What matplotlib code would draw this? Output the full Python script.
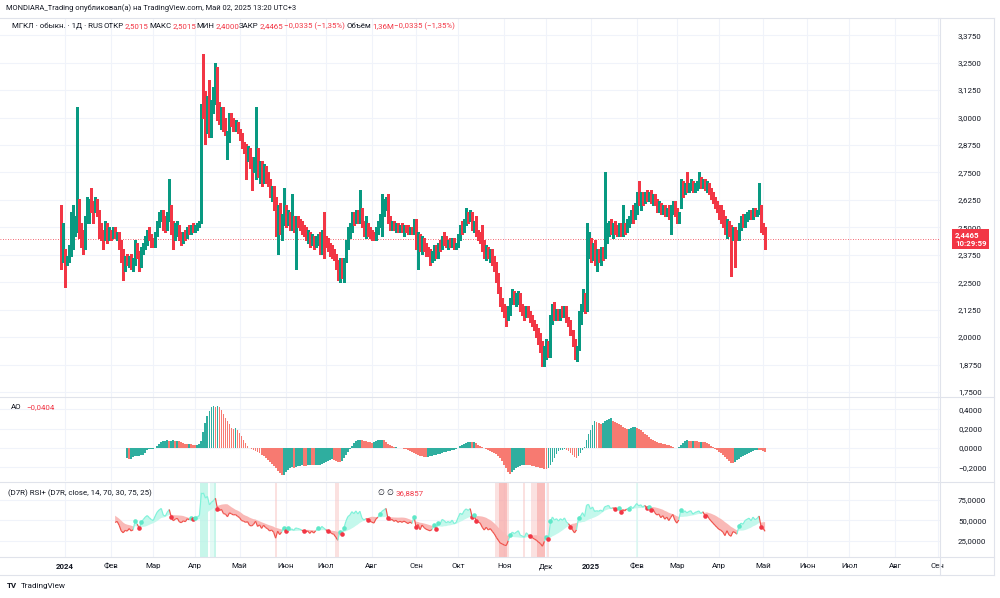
import numpy as np
import pandas as pd
import matplotlib
matplotlib.use('Agg')
import matplotlib.pyplot as plt
from matplotlib.collections import LineCollection
from matplotlib.lines import Line2D
from matplotlib.transforms import blended_transform_factory

plt.rcParams['font.family'] = ['Roboto', 'DejaVu Sans']

FIRST_DAY = '2023-12-28'
LAST_AXIS_DAY = '2025-09-30'

opens = [
    2.40, 2.36, 2.39, 2.35, 2.36, 2.38, 2.44, 2.50, 2.53, 2.59,
    2.47, 2.47, 2.46, 2.53, 2.61, 2.62, 2.60, 2.59, 2.62, 2.57,
    2.48, 2.47, 2.46, 2.50, 2.45, 2.48, 2.46, 2.49, 2.46, 2.47,
    2.43, 2.36, 2.33, 2.35, 2.34, 2.36, 2.33, 2.34, 2.42, 2.38,
    2.33, 2.39, 2.42, 2.45, 2.47, 2.45, 2.43, 2.42, 2.47, 2.52,
    2.55, 2.57, 2.51, 2.50, 2.55, 2.59, 2.51, 2.47, 2.49, 2.50,
    2.46, 2.45, 2.47, 2.46, 2.49, 2.48, 2.50, 2.49, 2.50, 2.51,
    2.53, 3.24, 3.08, 2.99, 3.06, 2.95, 3.04, 3.10, 3.21, 3.03,
    3.00, 3.04, 2.96, 2.88, 2.90, 3.00, 2.98, 2.96, 2.97, 2.94,
    2.92, 2.87, 2.86, 2.84, 2.85, 2.79, 2.78, 2.77, 2.84, 2.76,
    2.78, 2.72, 2.76, 2.72, 2.70, 2.66, 2.67, 2.63, 2.50, 2.58,
    2.50, 2.53, 2.59, 2.52, 2.56, 2.51, 2.53, 2.45, 2.53, 2.52,
    2.51, 2.49, 2.48, 2.46, 2.47, 2.43, 2.45, 2.42, 2.44, 2.46,
    2.44, 2.47, 2.45, 2.43, 2.41, 2.40, 2.38, 2.37, 2.33, 2.28,
    2.34, 2.30, 2.35, 2.42, 2.48, 2.50, 2.55, 2.53, 2.57, 2.54,
    2.58, 2.51, 2.48, 2.50, 2.49, 2.47, 2.46, 2.45, 2.49, 2.51,
    2.50, 2.58, 2.60, 2.62, 2.53, 2.51, 2.52, 2.50, 2.51, 2.49,
    2.50, 2.49, 2.50, 2.49, 2.48, 2.49, 2.48, 2.53, 2.44, 2.46,
    2.40, 2.44, 2.41, 2.39, 2.38, 2.37, 2.38, 2.41, 2.37, 2.42,
    2.41, 2.45, 2.44, 2.42, 2.43, 2.42, 2.44, 2.41, 2.42, 2.46,
    2.50, 2.49, 2.53, 2.55, 2.54, 2.56, 2.50, 2.52, 2.47, 2.46,
    2.47, 2.41, 2.38, 2.40, 2.37, 2.38, 2.35, 2.32, 2.27, 2.22,
    2.16, 2.14, 2.11, 2.10, 2.13, 2.17, 2.19, 2.17, 2.18, 2.19,
    2.13, 2.12, 2.10, 2.13, 2.10, 2.08, 2.06, 2.04, 2.02, 2.00,
    1.96, 1.90, 1.93, 1.96, 1.92, 2.08, 2.14, 2.10, 2.12, 2.09,
    2.12, 2.10, 2.13, 2.08, 2.06, 2.02, 1.97, 1.92, 1.95, 2.10,
    2.13, 2.19, 2.14, 2.40, 2.43, 2.36, 2.42, 2.35, 2.37, 2.36,
    2.39, 2.37, 2.48, 2.50, 2.52, 2.48, 2.50, 2.49, 2.48, 2.51,
    2.47, 2.50, 2.49, 2.52, 2.53, 2.57, 2.55, 2.59, 2.70, 2.62,
    2.64, 2.62, 2.65, 2.63, 2.65, 2.62, 2.64, 2.61, 2.59, 2.60,
    2.57, 2.59, 2.56, 2.58, 2.55, 2.58, 2.61, 2.56, 2.53, 2.60,
    2.69, 2.66, 2.69, 2.67, 2.69, 2.70, 2.67, 2.69, 2.70, 2.71,
    2.69, 2.71, 2.68, 2.69, 2.66, 2.64, 2.62, 2.60, 2.58, 2.56,
    2.55, 2.53, 2.49, 2.52, 2.50, 2.45, 2.48, 2.47, 2.45, 2.51,
    2.53, 2.52, 2.55, 2.56, 2.57, 2.55, 2.58, 2.56, 2.57, 2.59,
    2.50, 2.5015,
]
highs = [
    2.60, 2.52, 2.40, 2.37, 2.42, 2.57, 2.60, 2.55, 3.05, 2.63,
    2.52, 2.49, 2.55, 2.64, 2.63, 2.68, 2.62, 2.64, 2.63, 2.58,
    2.52, 2.49, 2.53, 2.52, 2.50, 2.49, 2.50, 2.50, 2.48, 2.48,
    2.44, 2.40, 2.37, 2.38, 2.37, 2.38, 2.36, 2.44, 2.43, 2.39,
    2.41, 2.43, 2.46, 2.49, 2.50, 2.47, 2.45, 2.48, 2.53, 2.57,
    2.58, 2.58, 2.55, 2.57, 2.72, 2.60, 2.53, 2.52, 2.53, 2.51,
    2.48, 2.48, 2.49, 2.50, 2.51, 2.51, 2.52, 2.51, 2.52, 2.53,
    3.06, 3.29, 3.12, 3.10, 3.17, 3.08, 3.14, 3.25, 3.23, 3.07,
    3.05, 3.05, 3.00, 2.94, 3.02, 3.02, 3.00, 2.99, 2.98, 2.95,
    2.93, 2.89, 2.88, 2.87, 2.86, 2.82, 2.82, 3.05, 2.86, 2.80,
    2.80, 2.79, 2.78, 2.75, 2.72, 2.69, 2.69, 2.64, 2.60, 2.61,
    2.56, 2.68, 2.60, 2.58, 2.57, 2.65, 2.55, 2.55, 2.55, 2.54,
    2.53, 2.51, 2.50, 2.49, 2.48, 2.47, 2.46, 2.46, 2.47, 2.48,
    2.49, 2.57, 2.46, 2.45, 2.43, 2.42, 2.40, 2.38, 2.35, 2.36,
    2.36, 2.36, 2.44, 2.50, 2.52, 2.57, 2.57, 2.58, 2.58, 2.67,
    2.59, 2.53, 2.55, 2.52, 2.50, 2.49, 2.48, 2.50, 2.53, 2.56,
    2.65, 2.63, 2.64, 2.65, 2.55, 2.53, 2.53, 2.52, 2.52, 2.51,
    2.52, 2.51, 2.51, 2.51, 2.50, 2.50, 2.54, 2.54, 2.48, 2.47,
    2.46, 2.45, 2.43, 2.41, 2.40, 2.39, 2.42, 2.42, 2.43, 2.44,
    2.46, 2.48, 2.46, 2.44, 2.45, 2.45, 2.45, 2.43, 2.47, 2.51,
    2.53, 2.54, 2.59, 2.57, 2.58, 2.57, 2.53, 2.55, 2.49, 2.48,
    2.51, 2.44, 2.42, 2.41, 2.40, 2.40, 2.37, 2.34, 2.29, 2.23,
    2.18, 2.15, 2.14, 2.14, 2.18, 2.22, 2.21, 2.20, 2.21, 2.20,
    2.15, 2.14, 2.14, 2.14, 2.12, 2.10, 2.08, 2.06, 2.04, 2.02,
    1.98, 1.96, 1.99, 1.98, 2.10, 2.15, 2.16, 2.13, 2.13, 2.13,
    2.14, 2.14, 2.14, 2.09, 2.08, 2.03, 1.99, 1.96, 2.12, 2.15,
    2.22, 2.20, 2.52, 2.48, 2.45, 2.43, 2.44, 2.40, 2.40, 2.41,
    2.41, 2.75, 2.52, 2.53, 2.54, 2.52, 2.53, 2.51, 2.52, 2.52,
    2.60, 2.52, 2.54, 2.55, 2.58, 2.60, 2.61, 2.66, 2.71, 2.66,
    2.66, 2.66, 2.67, 2.66, 2.67, 2.65, 2.65, 2.63, 2.62, 2.61,
    2.60, 2.60, 2.59, 2.60, 2.60, 2.62, 2.62, 2.59, 2.57, 2.72,
    2.71, 2.70, 2.75, 2.70, 2.72, 2.71, 2.70, 2.71, 2.75, 2.73,
    2.72, 2.72, 2.71, 2.70, 2.68, 2.66, 2.64, 2.62, 2.60, 2.60,
    2.58, 2.55, 2.54, 2.53, 2.51, 2.50, 2.50, 2.49, 2.52, 2.55,
    2.56, 2.56, 2.57, 2.58, 2.58, 2.59, 2.59, 2.58, 2.70, 2.60,
    2.52, 2.5015,
]
lows = [
    2.31, 2.34, 2.23, 2.33, 2.34, 2.37, 2.40, 2.46, 2.48, 2.45,
    2.41, 2.38, 2.40, 2.52, 2.52, 2.57, 2.52, 2.57, 2.55, 2.45,
    2.44, 2.40, 2.44, 2.43, 2.44, 2.44, 2.45, 2.45, 2.44, 2.40,
    2.34, 2.26, 2.30, 2.33, 2.32, 2.31, 2.30, 2.33, 2.36, 2.30,
    2.32, 2.38, 2.40, 2.42, 2.44, 2.41, 2.41, 2.41, 2.46, 2.50,
    2.53, 2.49, 2.48, 2.49, 2.53, 2.47, 2.40, 2.44, 2.46, 2.44,
    2.42, 2.43, 2.44, 2.45, 2.47, 2.47, 2.48, 2.48, 2.49, 2.50,
    2.52, 3.00, 2.88, 2.93, 2.91, 2.91, 3.02, 3.06, 2.99, 2.97,
    2.95, 2.94, 2.92, 2.81, 2.89, 2.96, 2.94, 2.94, 2.93, 2.90,
    2.86, 2.84, 2.72, 2.80, 2.77, 2.67, 2.75, 2.72, 2.73, 2.70,
    2.69, 2.70, 2.70, 2.69, 2.64, 2.62, 2.58, 2.46, 2.38, 2.47,
    2.44, 2.51, 2.50, 2.51, 2.49, 2.49, 2.48, 2.31, 2.50, 2.49,
    2.47, 2.46, 2.44, 2.43, 2.41, 2.42, 2.40, 2.41, 2.42, 2.38,
    2.38, 2.36, 2.41, 2.39, 2.37, 2.36, 2.35, 2.31, 2.26, 2.25,
    2.27, 2.25, 2.34, 2.40, 2.45, 2.48, 2.51, 2.52, 2.52, 2.52,
    2.50, 2.46, 2.45, 2.46, 2.45, 2.44, 2.44, 2.44, 2.47, 2.50,
    2.46, 2.55, 2.58, 2.52, 2.49, 2.49, 2.49, 2.48, 2.48, 2.48,
    2.48, 2.46, 2.48, 2.47, 2.47, 2.47, 2.47, 2.40, 2.31, 2.39,
    2.38, 2.39, 2.37, 2.37, 2.33, 2.34, 2.35, 2.36, 2.36, 2.39,
    2.40, 2.42, 2.41, 2.40, 2.41, 2.41, 2.40, 2.40, 2.41, 2.44,
    2.47, 2.48, 2.51, 2.52, 2.53, 2.49, 2.48, 2.46, 2.44, 2.43,
    2.39, 2.36, 2.35, 2.36, 2.34, 2.33, 2.30, 2.25, 2.20, 2.14,
    2.12, 2.09, 2.05, 2.08, 2.10, 2.15, 2.15, 2.14, 2.15, 2.12,
    2.10, 2.08, 2.09, 2.09, 2.07, 2.05, 2.03, 2.00, 1.97, 1.93,
    1.87, 1.87, 1.90, 1.91, 1.91, 2.06, 2.08, 2.08, 2.08, 2.08,
    2.09, 2.09, 2.07, 2.05, 2.01, 1.96, 1.90, 1.89, 1.94, 2.06,
    2.12, 2.11, 2.12, 2.36, 2.34, 2.35, 2.33, 2.30, 2.34, 2.33,
    2.35, 2.36, 2.43, 2.46, 2.47, 2.45, 2.47, 2.46, 2.46, 2.46,
    2.46, 2.47, 2.48, 2.50, 2.52, 2.52, 2.54, 2.56, 2.60, 2.58,
    2.60, 2.61, 2.62, 2.62, 2.61, 2.60, 2.60, 2.57, 2.57, 2.56,
    2.56, 2.55, 2.55, 2.54, 2.47, 2.56, 2.55, 2.52, 2.52, 2.59,
    2.64, 2.65, 2.66, 2.66, 2.67, 2.66, 2.66, 2.67, 2.68, 2.68,
    2.68, 2.67, 2.66, 2.65, 2.63, 2.61, 2.59, 2.57, 2.54, 2.52,
    2.50, 2.47, 2.45, 2.46, 2.28, 2.44, 2.32, 2.44, 2.44, 2.49,
    2.50, 2.50, 2.53, 2.54, 2.54, 2.54, 2.55, 2.55, 2.56, 2.48,
    2.47, 2.40,
]
closes = [
    2.37, 2.37, 2.35, 2.36, 2.37, 2.44, 2.50, 2.53, 2.59, 2.47,
    2.46, 2.46, 2.53, 2.61, 2.62, 2.60, 2.59, 2.62, 2.57, 2.48,
    2.47, 2.46, 2.50, 2.45, 2.48, 2.46, 2.49, 2.46, 2.47, 2.43,
    2.36, 2.33, 2.35, 2.34, 2.36, 2.33, 2.34, 2.42, 2.38, 2.33,
    2.39, 2.42, 2.45, 2.47, 2.45, 2.43, 2.42, 2.47, 2.52, 2.55,
    2.57, 2.51, 2.50, 2.55, 2.59, 2.51, 2.47, 2.49, 2.50, 2.46,
    2.45, 2.47, 2.46, 2.49, 2.48, 2.50, 2.49, 2.50, 2.51, 2.52,
    3.05, 3.05, 2.99, 3.06, 2.95, 3.04, 3.10, 3.21, 3.03, 3.00,
    3.04, 2.96, 2.95, 2.90, 3.00, 2.98, 2.96, 2.97, 2.94, 2.92,
    2.87, 2.86, 2.84, 2.85, 2.79, 2.78, 2.80, 2.84, 2.76, 2.78,
    2.72, 2.76, 2.72, 2.70, 2.66, 2.67, 2.63, 2.50, 2.58, 2.50,
    2.53, 2.59, 2.52, 2.56, 2.51, 2.53, 2.50, 2.53, 2.52, 2.51,
    2.49, 2.48, 2.46, 2.47, 2.43, 2.45, 2.42, 2.44, 2.46, 2.44,
    2.47, 2.45, 2.43, 2.41, 2.40, 2.38, 2.37, 2.33, 2.28, 2.34,
    2.30, 2.35, 2.42, 2.48, 2.50, 2.55, 2.53, 2.57, 2.54, 2.58,
    2.51, 2.48, 2.50, 2.49, 2.47, 2.46, 2.45, 2.49, 2.51, 2.55,
    2.58, 2.60, 2.62, 2.53, 2.51, 2.52, 2.50, 2.51, 2.49, 2.50,
    2.49, 2.50, 2.49, 2.48, 2.49, 2.48, 2.53, 2.44, 2.46, 2.40,
    2.44, 2.41, 2.39, 2.38, 2.37, 2.38, 2.41, 2.37, 2.42, 2.41,
    2.45, 2.44, 2.42, 2.43, 2.42, 2.44, 2.41, 2.42, 2.46, 2.50,
    2.49, 2.53, 2.55, 2.54, 2.56, 2.50, 2.52, 2.47, 2.46, 2.45,
    2.41, 2.38, 2.40, 2.37, 2.38, 2.35, 2.32, 2.27, 2.22, 2.16,
    2.14, 2.11, 2.10, 2.13, 2.17, 2.19, 2.17, 2.18, 2.19, 2.13,
    2.12, 2.10, 2.13, 2.10, 2.08, 2.06, 2.04, 2.02, 1.99, 1.96,
    1.90, 1.93, 1.96, 1.92, 2.08, 2.14, 2.10, 2.12, 2.09, 2.12,
    2.10, 2.13, 2.08, 2.06, 2.02, 1.97, 1.92, 1.95, 2.10, 2.13,
    2.19, 2.14, 2.40, 2.43, 2.36, 2.42, 2.35, 2.37, 2.36, 2.39,
    2.37, 2.48, 2.50, 2.52, 2.48, 2.50, 2.49, 2.48, 2.51, 2.47,
    2.50, 2.49, 2.52, 2.53, 2.57, 2.55, 2.59, 2.64, 2.62, 2.64,
    2.62, 2.65, 2.63, 2.65, 2.62, 2.64, 2.61, 2.59, 2.60, 2.57,
    2.59, 2.56, 2.58, 2.55, 2.58, 2.61, 2.56, 2.53, 2.56, 2.69,
    2.66, 2.69, 2.67, 2.69, 2.70, 2.67, 2.69, 2.70, 2.71, 2.69,
    2.71, 2.68, 2.69, 2.66, 2.64, 2.62, 2.60, 2.58, 2.56, 2.55,
    2.53, 2.49, 2.52, 2.47, 2.45, 2.48, 2.47, 2.45, 2.51, 2.53,
    2.52, 2.55, 2.56, 2.57, 2.55, 2.58, 2.56, 2.57, 2.59, 2.50,
    2.48, 2.4465,
]

# Awesome Oscillator histogram (first bar = candle 33)
AO_FIRST_BAR = 33
ao_values = [
    -0.100, -0.115, -0.110, -0.090, -0.085, -0.080, -0.080, -0.075, -0.070, -0.050,
    -0.020, -0.010, -0.010, -0.005, 0.005, 0.020, 0.040, 0.060, 0.070, 0.075,
    0.080, 0.070, 0.075, 0.080, 0.070, 0.075, 0.070, 0.060, 0.050, 0.045,
    0.040, 0.045, 0.040, 0.035, 0.030, 0.030, 0.040, 0.070, 0.170, 0.260,
    0.330, 0.380, 0.420, 0.430, 0.420, 0.430, 0.420, 0.390, 0.350, 0.310,
    0.280, 0.250, 0.210, 0.200, 0.205, 0.190, 0.160, 0.120, 0.080, 0.050,
    0.020, 0.000, -0.010, -0.020, -0.030, -0.040, -0.050, -0.070, -0.080, -0.100,
    -0.120, -0.140, -0.160, -0.190, -0.210, -0.240, -0.260, -0.280, -0.275, -0.250,
    -0.230, -0.210, -0.200, -0.210, -0.200, -0.190, -0.190, -0.180, -0.185, -0.190,
    -0.180, -0.170, -0.175, -0.180, -0.180, -0.175, -0.170, -0.160, -0.150, -0.140,
    -0.130, -0.120, -0.115, -0.120, -0.130, -0.140, -0.145, -0.130, -0.100, -0.070,
    -0.040, -0.010, 0.020, 0.050, 0.070, 0.080, 0.085, 0.080, 0.075, 0.070,
    0.065, 0.060, 0.055, 0.060, 0.070, 0.080, 0.085, 0.085, 0.080, 0.060,
    0.040, 0.030, 0.020, 0.010, 0.010, 0.005, 0.003, 0.000, -0.005, -0.010,
    -0.020, -0.030, -0.040, -0.050, -0.060, -0.070, -0.080, -0.085, -0.090, -0.095,
    -0.090, -0.085, -0.080, -0.075, -0.070, -0.065, -0.060, -0.050, -0.045, -0.040,
    -0.035, -0.030, -0.025, -0.020, -0.010, 0.000, 0.020, 0.030, 0.040, 0.050,
    0.060, 0.065, 0.060, 0.065, 0.050, 0.030, 0.020, 0.010, 0.000, -0.010,
    -0.020, -0.030, -0.040, -0.050, -0.060, -0.080, -0.100, -0.130, -0.170, -0.210,
    -0.250, -0.270, -0.250, -0.230, -0.210, -0.195, -0.185, -0.175, -0.170, -0.172,
    -0.175, -0.180, -0.185, -0.190, -0.195, -0.200, -0.205, -0.210, -0.215, -0.220,
    -0.210, -0.180, -0.140, -0.100, -0.060, -0.030, -0.020, -0.015, -0.010, -0.020,
    -0.030, -0.050, -0.070, -0.090, -0.100, -0.080, -0.050, -0.020, 0.010, 0.080,
    0.140, 0.190, 0.240, 0.280, 0.270, 0.260, 0.250, 0.260, 0.280, 0.290,
    0.300, 0.310, 0.280, 0.270, 0.260, 0.250, 0.240, 0.220, 0.210, 0.200,
    0.200, 0.210, 0.215, 0.215, 0.210, 0.200, 0.185, 0.170, 0.150, 0.130,
    0.110, 0.090, 0.080, 0.070, 0.060, 0.055, 0.050, 0.045, 0.040, 0.035,
    0.030, 0.020, 0.010, 0.005, 0.000, 0.010, 0.030, 0.050, 0.070, 0.080,
    0.075, 0.070, 0.072, 0.070, 0.068, 0.066, 0.067, 0.065, 0.060, 0.050,
    0.040, 0.020, 0.010, -0.010, -0.020, -0.040, -0.050, -0.070, -0.090, -0.110,
    -0.130, -0.150, -0.155, -0.140, -0.120, -0.110, -0.090, -0.080, -0.070, -0.060,
    -0.050, -0.040, -0.030, -0.020, -0.015, -0.020, -0.025, -0.035, -0.0404,
]

month_starts = ['2024-01-01', '2024-02-01', '2024-03-01', '2024-04-01', '2024-05-01',
                '2024-06-01', '2024-07-01', '2024-08-01', '2024-09-01', '2024-10-01',
                '2024-11-01', '2024-12-01', '2025-01-01', '2025-02-01', '2025-03-01',
                '2025-04-01', '2025-05-01', '2025-06-01', '2025-07-01', '2025-08-01',
                '2025-09-01']
month_labels = ['2024', 'Фев', 'Мар', 'Апр', 'Май', 'Июн', 'Июл', 'Авг', 'Сен', 'Окт',
                'Ноя', 'Дек', '2025', 'Фев', 'Мар', 'Апр', 'Май', 'Июн', 'Июл', 'Авг', 'Сен']

price_ticks = [1.75, 1.875, 2.0, 2.125, 2.25, 2.375, 2.5, 2.625, 2.75, 2.875, 3.0, 3.125, 3.25, 3.375]
ao_ticks = [-0.2, 0.0, 0.2, 0.4]
rsi_ticks = [25, 50, 75]
last_price = 2.4465
ao_last_text = '−0,0404'
rsi_last_text = '36,8857'

# ---------------------------------------------------------------- data prep
O = np.array(opens); H = np.array(highs); L = np.array(lows); C = np.array(closes)
n = len(C)
xi = np.arange(n)
cal = pd.bdate_range(FIRST_DAY, LAST_AXIS_DAY)
month_pos = [int(np.searchsorted(cal, pd.Timestamp(m))) for m in month_starts]

UP = '#089981'
DN = '#f23645'
GRID = '#f0f3fa'
TXT = '#131722'
BORDER = '#e0e3eb'
FS = 5.7

W, Hpx = 1000, 598
fig = plt.figure(figsize=(W / 100, Hpx / 100), dpi=100)
fig.patch.set_facecolor('white')
renderer = fig.canvas.get_renderer()

def fax(top, bottom, right=940):
    return fig.add_axes([0, 1 - bottom / Hpx, right / W, (bottom - top) / Hpx])

ax1 = fax(18, 397)
ax2 = fax(397, 481)
ax3 = fax(482, 557)

XL = (-30.4, 438.2)
for ax in (ax1, ax2, ax3):
    ax.set_xlim(*XL)
    for s in ax.spines.values():
        s.set_visible(False)
    ax.yaxis.tick_right()
    ax.tick_params(axis='y', length=0, pad=13, labelsize=FS, labelcolor=TXT)
    ax.tick_params(axis='x', length=0)
    for p in month_pos:
        ax.axvline(p, color=GRID, lw=0.8, zorder=0)
    ax.set_facecolor('none')

def fmt(v, d=4):
    s = f'{v:.{d}f}'.replace('.', ',')
    return s.replace('-', '−')

# ---------------------------------------------------------------- price panel
ax1.set_ylim(1.727, 3.4536)
ax1.set_yticks(price_ticks)
ax1.set_yticklabels([fmt(v) for v in price_ticks])
for v in price_ticks:
    ax1.axhline(v, color=GRID, lw=0.8, zorder=0)
up = C >= O
col = [UP if u else DN for u in up]
ax1.vlines(xi, L, H, colors=col, lw=0.75, zorder=2, antialiased=False)
body_b = np.minimum(O, C)
body_h = np.maximum(np.abs(C - O), 0.005)
ax1.bar(xi, body_h, bottom=body_b, width=0.78, color=col, linewidth=0, zorder=3, antialiased=False)
ax1.axhline(last_price, color=DN, lw=0.6, ls=(0, (1, 2)), zorder=1)
ax1.set_xticks([])
bt = blended_transform_factory(ax1.transAxes, ax1.transData)
ax1.text(1.0 + 15 / 940, last_price, '2,4465\n10:29:59', transform=bt, ha='left', va='center',
         fontsize=FS, color='white', fontweight='bold', linespacing=1.15,
         bbox=dict(boxstyle='square,pad=0.35', fc=DN, ec='none'), zorder=10, clip_on=False)

# ---------------------------------------------------------------- AO panel
ao = np.array(ao_values)
ao_x = np.arange(AO_FIRST_BAR, AO_FIRST_BAR + len(ao))
ao_up = np.r_[True, np.diff(ao) >= 0]
ax2.set_ylim(-0.34, 0.527)
ax2.set_yticks(ao_ticks)
ax2.set_yticklabels([fmt(v) for v in ao_ticks])
for v in ao_ticks:
    ax2.axhline(v, color=GRID, lw=0.8, zorder=0)
ax2.bar(ao_x, ao, width=0.92, linewidth=0,
        color=['#2fae9f' if u else '#f77a71' for u in ao_up], zorder=2, antialiased=False)
ax2.set_xticks([])

# ---------------------------------------------------------------- RSI panel
cs = pd.Series(C)
d = cs.diff().fillna(0)
g = d.clip(lower=0).ewm(alpha=1 / 14, adjust=False).mean()
l = (-d.clip(upper=0)).ewm(alpha=1 / 14, adjust=False).mean()
rsi = (100 - 100 / (1 + g / l)).values
sig = pd.Series(rsi).rolling(14).mean().values
i0 = 27
ax3.set_ylim(5.0, 97.1)
ax3.set_yticks(rsi_ticks)
ax3.set_yticklabels([fmt(v) for v in rsi_ticks])
for v in rsi_ticks:
    ax3.axhline(v, color=GRID, lw=0.8, zorder=0)

AQ_LINE = '#7ff2da'
AQ_FILL = '#c4f8ec'
RD_LINE = '#f0514a'
RD_FILL = '#f9b9b7'
for i in range(i0, n):
    r = rsi[i]
    if r > 75:
        ax3.axvspan(i - 0.5, i + 0.5, color='#b5f3e4', alpha=0.75, lw=0, zorder=0)
    elif r > 70:
        ax3.axvspan(i - 0.5, i + 0.5, color='#c9f7ec', alpha=0.5, lw=0, zorder=0)
    elif r < 25:
        ax3.axvspan(i - 0.5, i + 0.5, color='#f7a8a6', alpha=0.75, lw=0, zorder=0)
    elif r < 30:
        ax3.axvspan(i - 0.5, i + 0.5, color='#f9c4c3', alpha=0.5, lw=0, zorder=0)

xs = xi[i0:]
rr = rsi[i0:]
ss = sig[i0:]
above = rr >= ss
ax3.fill_between(xs, rr, ss, where=above, interpolate=True, color=AQ_FILL, lw=0, zorder=1)
ax3.fill_between(xs, rr, ss, where=~above, interpolate=True, color=RD_FILL, lw=0, zorder=1)
segs = [[(xs[k - 1], rr[k - 1]), (xs[k], rr[k])] for k in range(1, len(xs))]
seg_cols = [AQ_LINE if above[k] else RD_LINE for k in range(1, len(xs))]
ax3.add_collection(LineCollection(segs, colors=seg_cols, linewidths=0.85, zorder=3))
cross = np.where(above[1:] != above[:-1])[0] + 1
for k in cross:
    ax3.plot(xs[k], rr[k], 'o', ms=3.3, mew=0, color='#5fe8c8' if above[k] else '#f23645', zorder=4)

ax3.set_xticks(month_pos)
ax3.set_xticklabels(month_labels)
ax3.tick_params(axis='x', labelsize=FS, labelcolor=TXT, pad=4.5)
for lab in ax3.get_xticklabels():
    if lab.get_text() in ('2024', '2025'):
        lab.set_fontweight('bold')

# ---------------------------------------------------------------- frame lines
def hline(y, x0=0, x1=994):
    fig.add_artist(Line2D([x0 / W, x1 / W], [1 - y / Hpx, 1 - y / Hpx], color=BORDER, lw=0.8))

def vline(x, y0, y1):
    fig.add_artist(Line2D([x / W, x / W], [1 - y0 / Hpx, 1 - y1 / Hpx], color=BORDER, lw=0.8))

hline(18); hline(397); hline(481.5); hline(557); hline(575)
vline(940, 18, 575); vline(994, 18, 575)

# ---------------------------------------------------------------- texts
def ftext(x, y, s, color=TXT, size=FS, width=None, **kw):
    t = fig.text(x / W, 1 - y / Hpx, s, color=color, fontsize=size, va='center', ha='left', **kw)
    if width is not None:
        w0 = t.get_window_extent(renderer).width
        t.set_fontsize(size * width / w0)
    return t.get_window_extent(renderer).x1

def pair(x, y, label, value):
    x1 = ftext(x, y, label)
    return ftext(x1 + 0.8, y, value, color=DN)

ftext(6, 8, 'MONDIARA_Trading опубликовал(а) на TradingView.com, Май 02, 2025 13:20 UTC+3', width=286)
ftext(11.5, 26, 'МГКЛ · обыкн. · 1Д · RUS')
pair(104, 26, 'ОТКР', '2,5015')
pair(149.5, 26, 'МАКС', '2,5015')
pair(196.5, 26, 'МИН', '2,4000')
pair(239, 26, 'ЗАКР', '2,4465')
ftext(284, 26, '−0,0335 (−1,35%)', color=DN)
pair(346.5, 26, 'Объём', '1,36M')
ftext(394, 26, '−0,0335 (−1,35%)', color=DN)
ftext(11, 407, 'AO'); ftext(26, 407, ao_last_text, color=DN)
ftext(7.5, 493, '(D7R) RSI+ (D7R, close, 14, 70, 30, 75, 25)')
ftext(377.5, 493, '∅'); ftext(386.5, 493, '∅')
ftext(396, 493, rsi_last_text, color=DN)
ftext(6.5, 586, 'TV', fontweight='bold', size=5.8)
ftext(20.5, 586, 'TradingView', width=45)

fig.savefig('out.png', dpi=100, facecolor='white')
